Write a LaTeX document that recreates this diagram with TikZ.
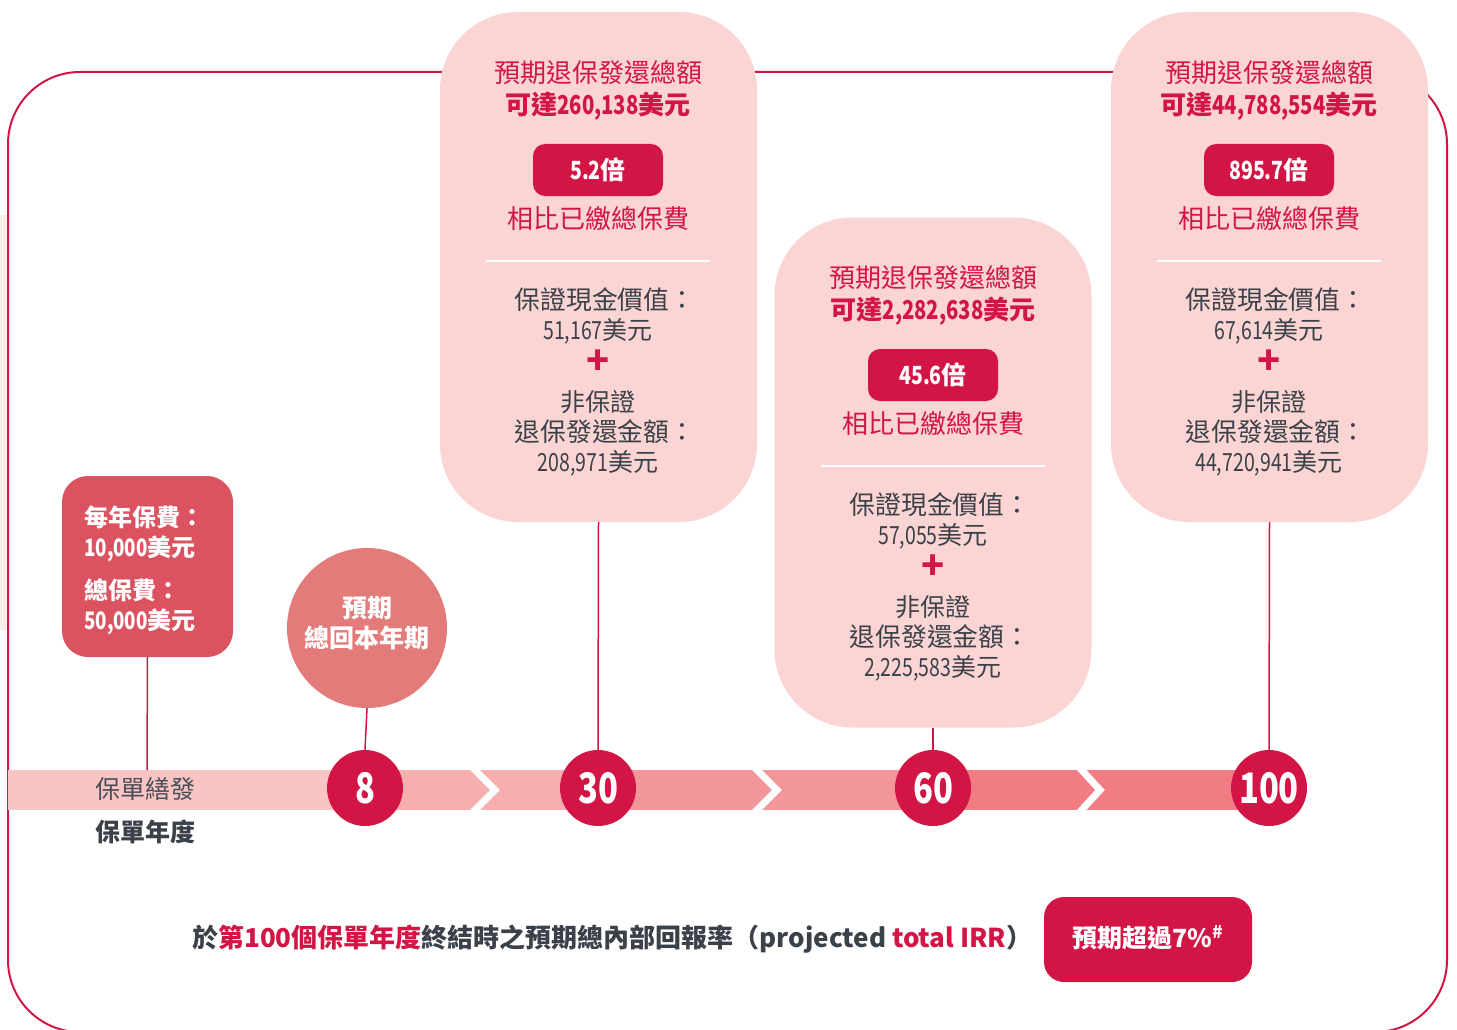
\documentclass[tikz,border=0pt]{standalone}
\usepackage{fontspec}
\setmainfont{Noto Sans CJK TC}
\newfontfamily\numf{Noto Sans CJK TC}[FakeStretch=0.78]
\newcommand{\nm}[1]{{\numf #1}}
\definecolor{crim}{HTML}{D31545}
\definecolor{cardfill}{HTML}{FBD5D3}
\definecolor{darktxt}{HTML}{3B4149}
\definecolor{graytxt}{HTML}{4A4F57}
\definecolor{boxfill}{HTML}{DB5360}
\definecolor{bigcirc}{HTML}{E37B7A}
\definecolor{bandA}{HTML}{F9C4C4}
\definecolor{bandB}{HTML}{F7AEAE}
\definecolor{bandC}{HTML}{F3969A}
\definecolor{bandD}{HTML}{F17C84}
\definecolor{faint}{HTML}{FDECEA}
\tikzset{
  txt/.style={inner sep=0pt, align=center},
  hd/.style={txt, text=crim, font=\fontsize{26}{30}\selectfont, text height=22.9pt, text depth=3.1pt},
  hdb/.style={hd, font=\fontsize{26}{30}\selectfont\bfseries},
  bd/.style={txt, text=darktxt, font=\fontsize{25}{30}\selectfont, text height=22pt, text depth=3pt},
  bdc/.style={bd, font=\fontsize{25.8}{30}\selectfont},
  badge/.style={txt, fill=crim, text=white, rounded corners=12pt, minimum width=130pt, minimum height=52pt,
     font=\fontsize{25}{30}\selectfont\bfseries, text height=22pt, text depth=3pt},
  card/.style={fill=cardfill, rounded corners=78pt, minimum width=317pt, minimum height=510pt, inner sep=0pt},
  yc/.style={circle, fill=crim, minimum size=76pt, inner sep=0pt, text=white,
     font=\fontsize{42}{44}\selectfont\numf\bfseries},
  conn/.style={draw=crim, line width=1.5pt},
  wt/.style={txt, text=white, font=\fontsize{24}{28}\selectfont\bfseries, text height=21.1pt, text depth=2.9pt},
  chev/.style={draw=white, line width=7pt, miter limit=10},
}
\newcommand{\cardbody}[7]{%
\begin{scope}[shift={(#2,#3)}]
  \node[hd]  (#1h1) at (0,73)  {預期退保發還總額};
  \node[hdb] (#1h2) at (0,105) {可達\nm{#4}美元};
  \node[badge] (#1b) at (0,170) {\nm{#5}倍};
  \node[hd]  (#1r)  at (0,219) {相比已繳總保費};
  \draw[white, line width=1.5pt] (-112,261) -- (112,261);
  \node[bdc] (#1g1) at (7,300) {保證現金價值：};
  \node[bd]  (#1g2) at (0,330) {\nm{#6}美元};
  \node[txt, text=crim, font=\fontsize{38}{38}\selectfont\bfseries] (#1p) at (0,362) {+};
  \node[bd]  (#1n1) at (0,402) {非保證};
  \node[bdc] (#1n2) at (7,432) {退保發還金額：};
  \node[bd]  (#1n3) at (0,462) {\nm{#7}美元};
\end{scope}}
\begin{document}
\begin{tikzpicture}[x=1pt,y=-1pt]
\useasboundingbox (0,0) rectangle (1457,1030);
\fill[faint] (0,215) rectangle (8,630);
% outer frame
\draw[crim, line width=2pt, rounded corners=72pt] (8,72) rectangle (1447,1032);
% cards
\node[card] (c30) at (598.5,267) {};
\node[card] (c60) at (933,472.5) {};
\node[card] (c100) at (1269.5,267) {};
\cardbody{k30}{598}{0}{260,138}{5.2}{51,167}{208,971}
\cardbody{k60}{933}{205}{2,282,638}{45.6}{57,055}{2,225,583}
\cardbody{k100}{1269}{0}{44,788,554}{895.7}{67,614}{44,720,941}
% band
\fill[bandA] (8,770) rectangle (366,810);
\fill[bandB] (366,770) rectangle (598,810);
\fill[bandC] (598,770) rectangle (933,810);
\fill[bandD] (933,770) rectangle (1250,810);
\begin{scope}
  \clip (8,770) rectangle (1250,810);
  \draw[chev] (471,766) -- (495,790) -- (471,814);
  \draw[chev] (753,766) -- (777,790) -- (753,814);
  \draw[chev] (1078,766) -- (1100,790) -- (1078,814);
\end{scope}
\node[txt, text=graytxt, font=\fontsize{25}{30}\selectfont, text height=22pt, text depth=3pt] (issue) at (145,789) {保單繕發};
\node[txt, text=darktxt, font=\fontsize{25}{30}\selectfont\bfseries, text height=22pt, text depth=3pt] (pyear) at (145,832) {保單年度};
% left box
\node[fill=boxfill, rounded corners=26pt, minimum width=171pt, minimum height=181pt, inner sep=0pt] (lb) at (147.5,566.5) {};
\node[wt, anchor=west] (lb1) at (84,517) {每年保費：};
\node[wt, anchor=west] (lb2) at (84,547) {\nm{10,000}美元};
\node[wt, anchor=west] (lb3) at (84,590) {總保費：};
\node[wt, anchor=west] (lb4) at (84,620) {\nm{50,000}美元};
% breakeven circle
\node[circle, fill=bigcirc, minimum size=160pt, inner sep=0pt] (rc) at (367,628) {};
\node[wt, font=\fontsize{25}{28}\selectfont\bfseries] (rc1) at (367,608) {預期};
\node[wt, font=\fontsize{25}{28}\selectfont\bfseries] (rc2) at (367,638) {總回本年期};
% year circles
\node[yc] (y8) at (365,788) {8};
\node[yc] (y30) at (598,788) {30};
\node[yc] (y60) at (933,788) {60};
\node[yc] (y100) at (1269,788) {100};
% connectors
\coordinate (lbend) at (147,770);
\draw[conn] (lb.south) -- (lbend);
\draw[conn] (rc.south) -- (y8.north);
\draw[conn] (c30.south) -- (y30.north);
\draw[conn] (c60.south) -- (y60.north);
\draw[conn] (c100.south) -- (y100.north);
% bottom line
\node[txt, anchor=west, text=darktxt, font=\fontsize{26}{30}\selectfont\bfseries, text height=22.9pt, text depth=3.1pt] (irr) at (192,938)
  {於\textcolor{crim}{第100個保單年度}終結時之預期總內部回報率（projected \textcolor{crim}{total IRR}）};
\node[fill=crim, rounded corners=20pt, minimum width=208pt, minimum height=85pt, inner sep=0pt] (irrb) at (1148,939.5) {};
\node[wt, font=\fontsize{25}{28}\selectfont\bfseries] (irrt) at (1148,938) {預期超過7\%\textsuperscript{\#}};
\end{tikzpicture}
\end{document}
